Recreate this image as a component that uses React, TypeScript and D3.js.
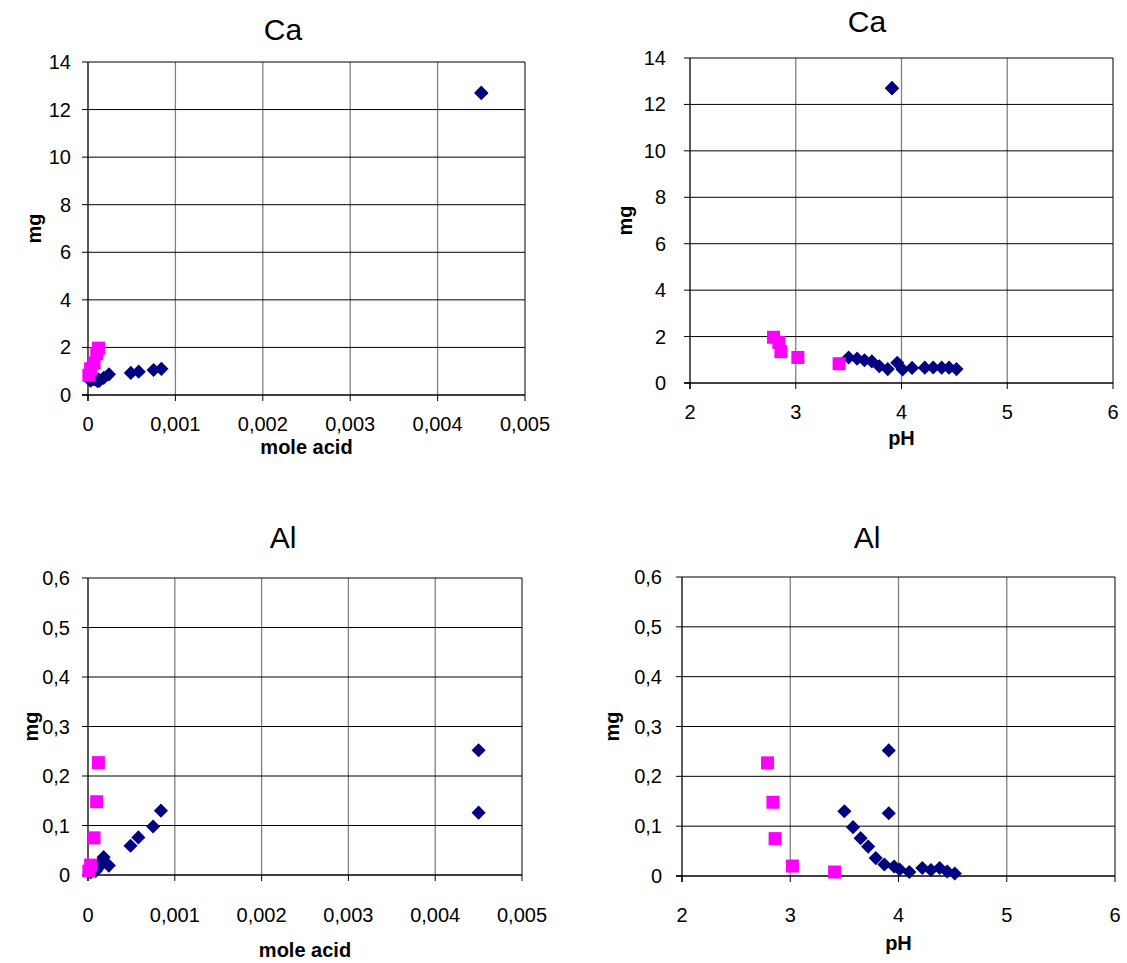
import React from 'react'
import * as d3 from 'd3'

// navy series (diamonds)
const navyMoleAcid = [0.00084, 0.00075, 0.00058, 0.00049, 0.00018, 0.00013, 0.0045, 0.0045, 0.00024, 0.00011, 0.00009, 0.00012, 0.00007, 0.00005, 0.00004, 0.00003]
const navyPH = [3.5, 3.58, 3.65, 3.72, 3.79, 3.87, 3.91, 3.91, 3.96, 4.01, 4.1, 4.22, 4.3, 4.38, 4.45, 4.52]
const navyCa = [1.1, 1.05, 0.98, 0.93, 0.72, 0.6, 12.7, 12.7, 0.87, 0.58, 0.65, 0.66, 0.67, 0.66, 0.66, 0.6]
const navyAl = [0.13, 0.098, 0.076, 0.059, 0.036, 0.023, 0.252, 0.126, 0.019, 0.013, 0.008, 0.016, 0.012, 0.016, 0.009, 0.005]

// magenta series (squares)
const pinkMoleAcid = [0.00012, 0.0001, 0.00007, 0.00003, 0.00001]
const pinkPH = [2.79, 2.84, 2.86, 3.02, 3.41]
const pinkCa = [1.97, 1.74, 1.35, 1.1, 0.83]
const pinkAl = [0.227, 0.148, 0.075, 0.02, 0.008]

const moleTicks = [0, 0.001, 0.002, 0.003, 0.004, 0.005]
const phTicks = [2, 3, 4, 5, 6]
const caTicks = [0, 2, 4, 6, 8, 10, 12, 14]
const alTicks = [0, 0.1, 0.2, 0.3, 0.4, 0.5, 0.6]

const NAVY = '#000080'
const PINK = '#FF00FF'
const FONT = '"Liberation Sans", Arial, sans-serif'

const fmt = (d: number) => String(d).replace('.', ',')

function Panel(props: any) {
  const { box, xTicks, yTicks, title, titleX, titleY, xLabel, xLabelY, yLabelX,
    navyX, navyY, pinkX, pinkY, xTickDy, yTickGap } = props
  const x = d3.scaleLinear().domain([xTicks[0], xTicks[xTicks.length - 1]]).range([box.x0, box.x1])
  const y = d3.scaleLinear().domain([yTicks[0], yTicks[yTicks.length - 1]]).range([box.y1, box.y0])
  const cx = (box.x0 + box.x1) / 2
  const cy = (box.y0 + box.y1) / 2
  const diamond = d3.symbol().type(d3.symbolSquare).size(100)()
  return (
    <g>
      {xTicks.slice(1, -1).map((t: number) => (
        <line key={'vx' + t} x1={x(t)} x2={x(t)} y1={box.y0} y2={box.y1} stroke="#808080" strokeWidth={1.3} />
      ))}
      {yTicks.slice(1).map((t: number) => (
        <line key={'hy' + t} x1={box.x0} x2={box.x1} y1={y(t)} y2={y(t)} stroke="#000" strokeWidth={1} />
      ))}
      <line x1={box.x1} x2={box.x1} y1={box.y0} y2={box.y1} stroke="#000" />
      <line x1={box.x0} x2={box.x0} y1={box.y0} y2={box.y1 + 6} stroke="#000" strokeWidth={1.3} />
      <line x1={box.x0 - 6} x2={box.x1} y1={box.y1} y2={box.y1} stroke="#000" strokeWidth={1.3} />
      {yTicks.map((t: number) => (
        <g key={'yt' + t}>
          <line x1={box.x0 - 6} x2={box.x0} y1={y(t)} y2={y(t)} stroke="#000" />
          <text x={box.x0 - yTickGap} y={y(t)} dy="0.35em" textAnchor="end" fontSize={20} fontFamily={FONT}>{fmt(t)}</text>
        </g>
      ))}
      {xTicks.map((t: number) => (
        <g key={'xt' + t}>
          <line x1={x(t)} x2={x(t)} y1={box.y1} y2={box.y1 + 6} stroke="#000" />
          <text x={x(t)} y={box.y1 + xTickDy} textAnchor="middle" fontSize={20} fontFamily={FONT}>{fmt(t)}</text>
        </g>
      ))}
      {navyX.map((v: number, i: number) => (
        <path key={'n' + i} d={diamond} fill={NAVY}
          transform={`translate(${x(v)},${y(navyY[i])}) rotate(45)`} />
      ))}
      {pinkX.map((v: number, i: number) => (
        <rect key={'p' + i} x={x(v) - 6.5} y={y(pinkY[i]) - 6.5} width={13} height={13} fill={PINK} />
      ))}
      <text x={titleX} y={titleY} textAnchor="middle" fontSize={30} fontFamily={FONT}>{title}</text>
      <text x={cx} y={xLabelY} textAnchor="middle" fontSize={20} fontWeight="bold" fontFamily={FONT}>{xLabel}</text>
      <text transform={`translate(${yLabelX},${cy}) rotate(-90)`} textAnchor="middle" fontSize={20} fontWeight="bold" fontFamily={FONT}>mg</text>
    </g>
  )
}

export default function App() {
  return (
    <svg width={1127} height={963} style={{ position: 'absolute', left: 0, top: 0, background: '#fff' }}>
      <Panel box={{ x0: 88, x1: 525, y0: 62, y1: 395 }} xTicks={moleTicks} yTicks={caTicks}
        title="Ca" titleX={283} titleY={40} xLabel="mole acid" xLabelY={454} yLabelX={41}
        navyX={navyMoleAcid} navyY={navyCa} pinkX={pinkMoleAcid} pinkY={pinkCa} xTickDy={36} yTickGap={17} />
      <Panel box={{ x0: 690, x1: 1113, y0: 58, y1: 383 }} xTicks={phTicks} yTicks={caTicks}
        title="Ca" titleX={867} titleY={32} xLabel="pH" xLabelY={445} yLabelX={632}
        navyX={navyPH} navyY={navyCa} pinkX={pinkPH} pinkY={pinkCa} xTickDy={36} yTickGap={24} />
      <Panel box={{ x0: 88, x1: 522, y0: 578, y1: 875 }} xTicks={moleTicks} yTicks={alTicks}
        title="Al" titleX={283} titleY={548} xLabel="mole acid" xLabelY={957} yLabelX={38}
        navyX={navyMoleAcid} navyY={navyAl} pinkX={pinkMoleAcid} pinkY={pinkAl} xTickDy={47} yTickGap={18} />
      <Panel box={{ x0: 682, x1: 1115, y0: 577, y1: 876 }} xTicks={phTicks} yTicks={alTicks}
        title="Al" titleX={867} titleY={548} xLabel="pH" xLabelY={950} yLabelX={619}
        navyX={navyPH} navyY={navyAl} pinkX={pinkPH} pinkY={pinkAl} xTickDy={46} yTickGap={20} />
    </svg>
  )
}
